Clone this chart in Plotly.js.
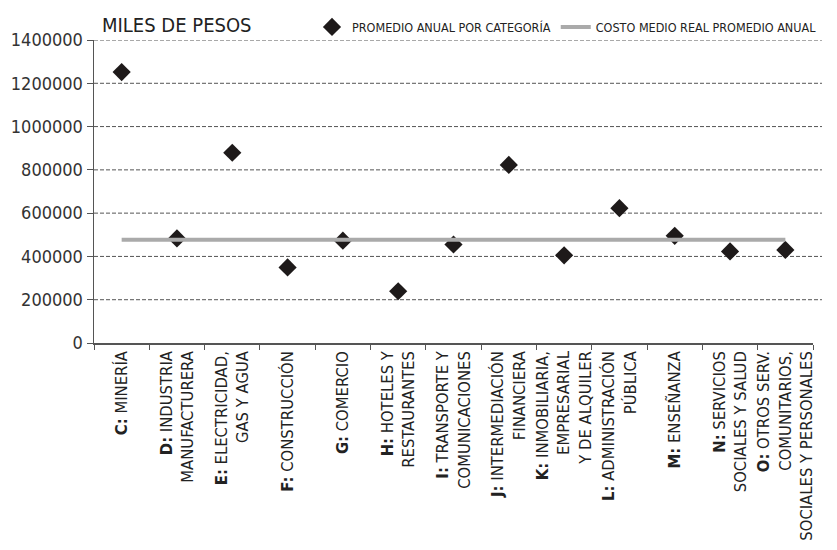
<!DOCTYPE html>
<html>
<head>
<meta charset="utf-8">
<script src="https://cdn.plot.ly/plotly-3.0.1.min.js"></script>
<style>html,body{margin:0;padding:0;background:#fff;}#chart{width:837px;height:550px;}</style>
</head>
<body>
<div id="chart"></div>
<script>
const categories = [
  "<b>C:</b> MINERÍA",
  "<b>D:</b> INDUSTRIA<br>MANUFACTURERA",
  "<b>E:</b> ELECTRICIDAD,<br>GAS Y AGUA",
  "<b>F:</b> CONSTRUCCIÓN",
  "<b>G:</b> COMERCIO",
  "<b>H:</b> HOTELES Y<br>RESTAURANTES",
  "<b>I:</b> TRANSPORTE Y<br>COMUNICACIONES",
  "<b>J:</b> INTERMEDIACIÓN<br>FINANCIERA",
  "<b>K:</b> INMOBILIARIA,<br>EMPRESARIAL<br>Y DE ALQUILER",
  "<b>L:</b> ADMINISTRACIÓN<br>PÚBLICA",
  "<b>M:</b> ENSEÑANZA",
  "<b>N:</b> SERVICIOS<br>SOCIALES Y SALUD",
  "<b>O:</b> OTROS SERV.<br>COMUNITARIOS,<br>SOCIALES Y PERSONALES"
];
const promedioAnual = [1252000, 483000, 879000, 349000, 473000, 239000, 455000, 823000, 405000, 623000, 495000, 423000, 430000];
const costoMedioReal = 477000;
const yTicks = [0, 200000, 400000, 600000, 800000, 1000000, 1200000, 1400000];

const font = "'DejaVu Sans Condensed', 'Liberation Sans Narrow', Arial Narrow, sans-serif";

const traces = [
  {
    type: 'scatter', mode: 'markers', name: 'PROMEDIO ANUAL POR CATEGORÍA',
    x: categories, y: promedioAnual,
    marker: {symbol: 'diamond', size: 14, color: '#1e1a1a'}
  },
  {
    type: 'scatter', mode: 'lines', name: 'COSTO MEDIO REAL PROMEDIO ANUAL',
    x: categories, y: categories.map(() => costoMedioReal),
    line: {color: '#aaaaaa', width: 4}
  }
];

const gridShapes = yTicks.filter(v => v > 0).map(v => ({
  type: 'line', xref: 'paper', yref: 'y', x0: 0, x1: 1.0125, y0: v, y1: v,
  line: {color: '#555', width: 1, dash: '4px,2px'}, layer: 'below'
}));

const layout = {
  width: 837, height: 550,
  margin: {l: 94, r: 24, t: 33, b: 207},
  paper_bgcolor: '#fff', plot_bgcolor: '#fff',
  font: {family: font, color: '#222'},
  showlegend: true,
  legend: {
    orientation: 'h', x: 1.0125, xanchor: 'right', y: 1.042, yanchor: 'middle',
    font: {size: 12.5, family: font, color: '#222'},
    bgcolor: 'rgba(0,0,0,0)', itemwidth: 30, tracegroupgap: 0
  },
  xaxis: {
    type: 'category', tickson: 'boundaries', tickangle: -90,
    showgrid: false, showline: true, linecolor: '#555', linewidth: 1.5,
    ticks: 'outside', ticklen: 5, tickcolor: '#555',
    tickfont: {size: 16.5, family: font, color: '#222'},
    range: [-0.5, 12.5], zeroline: false
  },
  yaxis: {
    range: [0, 1400000], tickvals: yTicks, ticktext: yTicks.map(String),
    showgrid: false, showline: true, linecolor: '#555', linewidth: 1.5,
    ticks: 'outside', ticklen: 6, tickcolor: '#555',
    tickfont: {size: 18, family: font, color: '#333'},
    zeroline: false
  },
  shapes: gridShapes,
  annotations: [{
    text: 'MILES DE PESOS', xref: 'paper', yref: 'paper', x: 0.008, y: 1.048,
    xanchor: 'left', yanchor: 'middle', showarrow: false,
    font: {size: 20, family: font, color: '#222'}
  }]
};

Plotly.newPlot('chart', traces, layout, {displayModeBar: false, staticPlot: true});
</script>
</body>
</html>
